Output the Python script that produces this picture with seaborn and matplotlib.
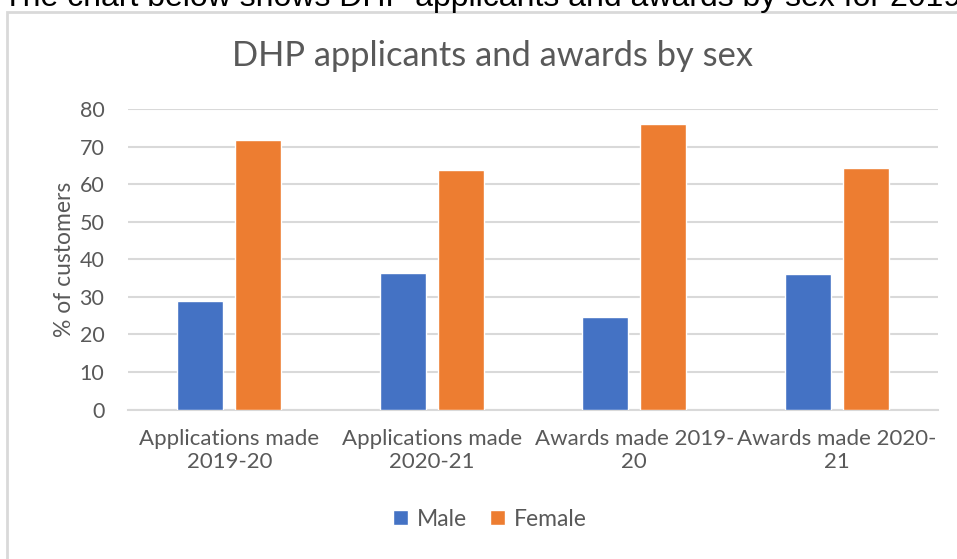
import pandas as pd
import seaborn as sns
import matplotlib.pyplot as plt
from matplotlib.patches import Rectangle

# data
categories = ["Applications made\n2019-20", "Applications made\n2020-21",
              "Awards made 2019-\n20", "Awards made 2020-\n21"]
male = [29.0, 36.4, 24.7, 36.0]
female = [71.7, 63.7, 75.9, 64.2]
series = ["Male", "Female"]
colors = ["#4472C4", "#ED7D31"]

df = pd.DataFrame({
    "Category": categories * 2,
    "Value": male + female,
    "Sex": [series[0]] * len(categories) + [series[1]] * len(categories),
})

sns.set_theme(style="white")
plt.rcParams["font.family"] = ["Lato", "DejaVu Sans"]
grey = "#595959"

fig = plt.figure(figsize=(9.57, 5.59), dpi=100)
ax = fig.add_axes([128 / 957, 1 - 409.5 / 559, 810 / 957, 300.5 / 559])

sns.barplot(data=df, x="Category", y="Value", hue="Sex", palette=colors,
            width=0.57, gap=0.2, saturation=1, ax=ax, zorder=3)

ax.set_ylim(0, 80)
ax.set_yticks(range(0, 81, 10))
ax.yaxis.grid(True, color="#d9d9d9", linewidth=1.5, zorder=0)
ax.set_axisbelow(True)
for s in ["top", "right", "left"]:
    ax.spines[s].set_visible(False)
ax.spines["bottom"].set_color("#d9d9d9")
ax.spines["bottom"].set_linewidth(1.5)
ax.tick_params(axis="y", length=0, pad=17, labelsize=15.5, labelcolor=grey)
ax.tick_params(axis="x", length=0, pad=14, labelsize=16, labelcolor=grey)
ax.set_xlabel("")
ax.set_ylabel("% of customers", fontsize=16.5, color=grey, labelpad=3)

sns.move_legend(ax, "center", bbox_to_anchor=(490 / 957, 1 - 519 / 559),
                bbox_transform=fig.transFigure, ncol=2, frameon=False,
                title=None, fontsize=16.5, handlelength=0.65, handleheight=0.65,
                handletextpad=0.4, columnspacing=1.0)
for t in ax.get_legend().get_texts():
    t.set_color(grey)

fig.text(492 / 957, 1 - 56 / 559, "DHP applicants and awards by sex",
         ha="center", va="center", fontsize=24.8, color=grey)

# chart frame and the clipped sentence above it
fig.patches.append(Rectangle((7 / 957, -0.1), 1.2, 1 - 12 / 559 + 0.1,
                             transform=fig.transFigure, fill=False,
                             edgecolor="#d9d9d9", linewidth=2))
fig.text(3 / 957, 1 - 6 / 559,
         "The chart below shows DHP applicants and awards by sex for 2019-21",
         ha="left", va="baseline", fontsize=23, color="black",
         family=["Liberation Sans", "DejaVu Sans"])

fig.savefig("out.png", dpi=100, facecolor="white")
